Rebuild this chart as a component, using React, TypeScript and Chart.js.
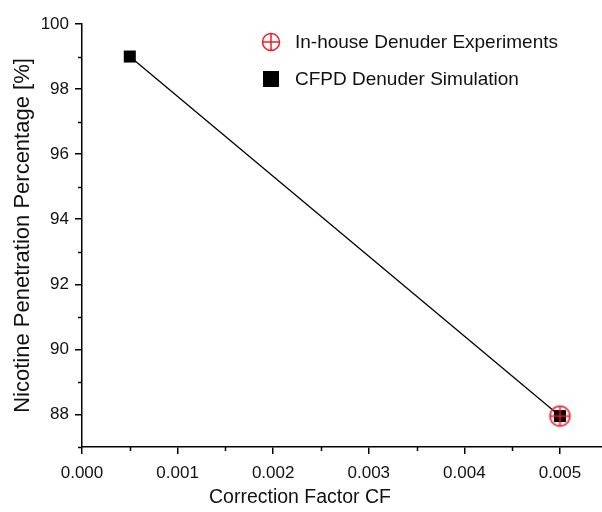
import { useEffect, useRef } from 'react';
import { Chart, registerables } from 'chart.js';

Chart.register(...registerables);

// ---- data ----
const simCF = [0.0005, 0.005];
const simPenetration = [99, 87.95];
const expCF = [0.005];
const expPenetration = [87.95];

const xMajorTicks = [0, 0.001, 0.002, 0.003, 0.004, 0.005];
const xMinorTicks = [0.0005, 0.0015, 0.0025, 0.0035, 0.0045];
const yMajorTicks = [88, 90, 92, 94, 96, 98, 100];
const yMinorTicks = [87, 89, 91, 93, 95, 97, 99];

const expLabel = 'In-house Denuder Experiments';
const simLabel = 'CFPD Denuder Simulation';
const xTitle = 'Correction Factor CF';
const yTitle = 'Nicotine Penetration Percentage [%]';

const RED = '#ee1c25';
const FONT = "'Liberation Sans', Arial, sans-serif";

function crossedCircle(r: number, lw: number): HTMLCanvasElement {
  const size = Math.ceil(r * 2 + lw * 2 + 2);
  const c = document.createElement('canvas');
  c.width = size;
  c.height = size;
  const ctx = c.getContext('2d')!;
  const m = size / 2;
  ctx.strokeStyle = RED;
  ctx.lineWidth = lw;
  ctx.beginPath();
  ctx.arc(m, m, r, 0, Math.PI * 2);
  ctx.stroke();
  ctx.beginPath();
  ctx.moveTo(m - r, m);
  ctx.lineTo(m + r, m);
  ctx.moveTo(m, m - r);
  ctx.lineTo(m, m + r);
  ctx.stroke();
  return c;
}

const minorTicksPlugin = {
  id: 'minorTicks',
  afterDraw(chart: any) {
    const ctx = chart.ctx;
    const xs = chart.scales.x;
    const ys = chart.scales.y;
    const area = chart.chartArea;
    ctx.save();
    ctx.strokeStyle = '#000';
    ctx.lineWidth = 1.5;
    ctx.beginPath();
    xMinorTicks.forEach((v) => {
      const px = Math.round(xs.getPixelForValue(v)) + 0.5;
      ctx.moveTo(px, area.bottom);
      ctx.lineTo(px, area.bottom + 4);
    });
    yMinorTicks.forEach((v) => {
      const py = Math.round(ys.getPixelForValue(v)) + 0.5;
      ctx.moveTo(area.left, py);
      ctx.lineTo(area.left - 4, py);
    });
    ctx.stroke();
    // x-axis title (centred as in the original figure)
    ctx.font = `19.5px ${FONT}`;
    ctx.fillStyle = '#111';
    ctx.textAlign = 'center';
    ctx.textBaseline = 'middle';
    ctx.fillText(xTitle, 300, 498);
    ctx.restore();
  },
};

const legendPlugin = {
  id: 'insideLegend',
  afterDraw(chart: any) {
    const ctx = chart.ctx;
    ctx.save();
    ctx.font = `19px ${FONT}`;
    ctx.fillStyle = '#111';
    ctx.textBaseline = 'middle';
    ctx.textAlign = 'left';
    const cx = 271;
    const y1 = 42;
    ctx.strokeStyle = RED;
    ctx.lineWidth = 1.5;
    ctx.beginPath();
    ctx.arc(cx, y1, 8.5, 0, Math.PI * 2);
    ctx.moveTo(cx - 8.5, y1);
    ctx.lineTo(cx + 8.5, y1);
    ctx.moveTo(cx, y1 - 8.5);
    ctx.lineTo(cx, y1 + 8.5);
    ctx.stroke();
    ctx.fillText(chart.data.datasets[0].label, 295, y1 + 1);
    const y2 = 79;
    ctx.fillStyle = '#000';
    ctx.fillRect(cx - 8, y2 - 8, 16, 16);
    ctx.fillStyle = '#111';
    ctx.fillText(chart.data.datasets[1].label, 295, y2 + 1);
    ctx.restore();
  },
};

export default function App() {
  const ref = useRef<HTMLCanvasElement>(null);

  useEffect(() => {
    if (!ref.current) return;
    const expMarker = crossedCircle(10, 1.5);
    const chart = new Chart(ref.current, {
      type: 'scatter',
      data: {
        datasets: [
          {
            label: expLabel,
            data: expCF.map((x, i) => ({ x, y: expPenetration[i] })),
            pointStyle: expMarker as any,
            showLine: false,
          },
          {
            label: simLabel,
            data: simCF.map((x, i) => ({ x, y: simPenetration[i] })),
            showLine: true,
            borderColor: '#000',
            borderWidth: 1.3,
            pointStyle: 'rect',
            pointRadius: 8.5,
            pointBackgroundColor: '#000',
            pointBorderColor: '#000',
            pointBorderWidth: 0,
          },
        ],
      },
      options: {
        animation: false,
        responsive: false,
        events: [],
        layout: { autoPadding: false, padding: { top: 24, left: 0, right: 0, bottom: 0 } },
        plugins: {
          legend: { display: false },
          tooltip: { enabled: false },
        },
        scales: {
          x: {
            type: 'linear',
            min: 0,
            max: 0.00544,
            afterBuildTicks: (scale: any) => {
              scale.ticks = xMajorTicks.map((value) => ({ value }));
            },
            afterFit: (scale: any) => {
              scale.height = 65;
              scale.paddingLeft = 0;
              scale.paddingRight = 0;
            },
            ticks: {
              callback: (v: any) => Number(v).toFixed(3),
              font: { family: FONT, size: 17 },
              color: '#111',
              padding: 9,
              maxRotation: 0,
            },
            grid: {
              drawOnChartArea: false,
              drawTicks: true,
              tickLength: 7,
              color: '#000',
              lineWidth: 1.5,
            },
            border: { color: '#000', width: 1.5 },
            title: { display: false },
          },
          y: {
            type: 'linear',
            min: 87,
            max: 100,
            afterBuildTicks: (scale: any) => {
              scale.ticks = yMajorTicks.map((value) => ({ value }));
            },
            afterFit: (scale: any) => {
              scale.width = 82;
              scale.paddingTop = 0;
              scale.paddingBottom = 0;
            },
            ticks: {
              font: { family: FONT, size: 17 },
              color: '#111',
              padding: 6,
            },
            grid: {
              drawOnChartArea: false,
              drawTicks: true,
              tickLength: 7,
              color: '#000',
              lineWidth: 1.5,
            },
            border: { color: '#000', width: 1.5 },
            title: {
              display: true,
              text: yTitle,
              font: { family: FONT, size: 22 },
              color: '#111',
              padding: { top: 10, bottom: 2 },
            },
          },
        },
      },
      plugins: [minorTicksPlugin, legendPlugin],
    } as any);
    return () => chart.destroy();
  }, []);

  return (
    <div style={{ position: 'absolute', left: 0, top: 0, width: 602, height: 512, background: '#fff' }}>
      <canvas ref={ref} width={602} height={512} />
    </div>
  );
}
